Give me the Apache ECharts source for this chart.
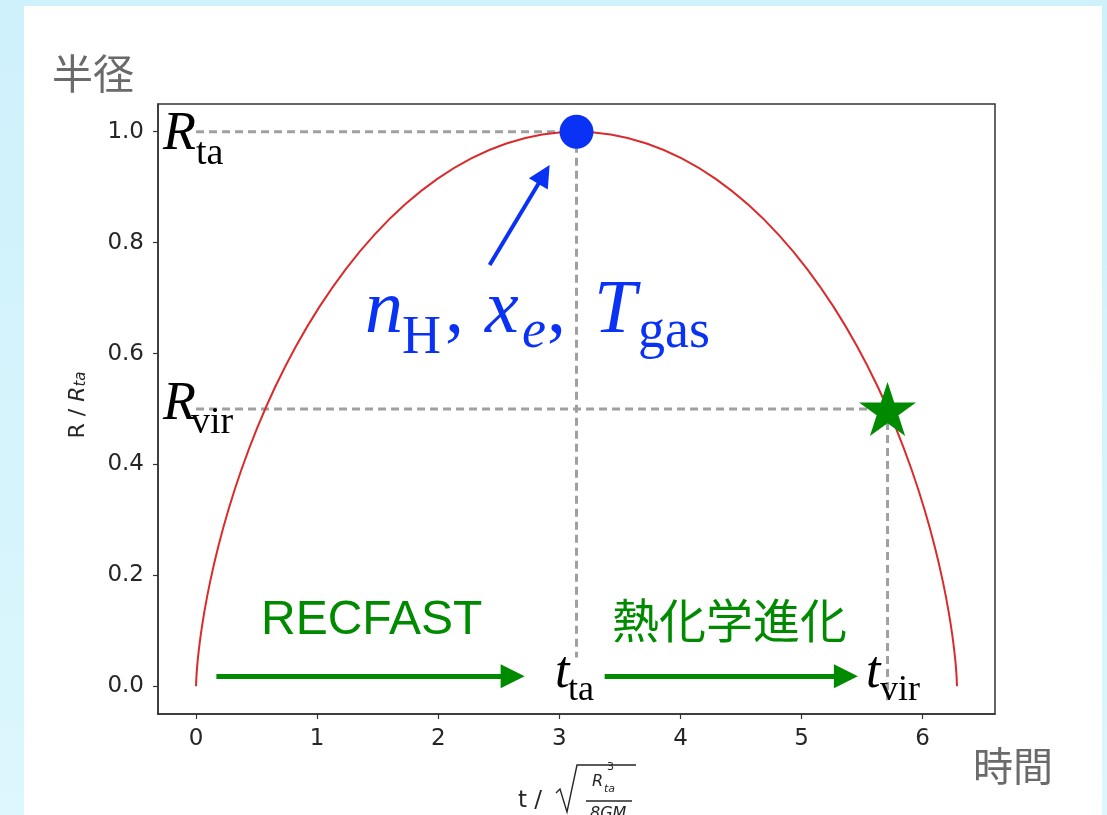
<!DOCTYPE html>
<html>
<head>
<meta charset="utf-8">
<script src="https://cdn.jsdelivr.net/npm/echarts@6.0.0/dist/echarts.min.js"></script>
<style>
  html, body { margin:0; padding:0; width:1107px; height:815px; overflow:hidden;
    background: linear-gradient(180deg, #cff1fb 0%, #d6f4fc 60%, #dcf7fd 100%); }
  #card { position:absolute; left:24px; top:6px; width:1078px; height:820px; background:#fff; }
  #chart { position:absolute; left:0; top:0; width:1107px; height:815px; }
</style>
</head>
<body>
<div id="card"></div>
<div id="chart"></div>
<script>
// ---- data ----
const tValues = [0, 0.0006, 0.0045, 0.0150, 0.0354, 0.0684, 0.1167, 0.1826, 0.268, 0.3743, 0.5025,
  0.6531, 0.8262, 1.021, 1.2368, 1.4719, 1.7245, 1.9923, 2.2726, 2.5625, 2.8589, 3.1416,
  3.4243, 3.7207, 4.0106, 4.2909, 4.5587, 4.8113, 5.0464, 5.2622, 5.457, 5.6301, 5.7807,
  5.9089, 6.0152, 6.1006, 6.1665, 6.2148, 6.2478, 6.2682, 6.2787, 6.2826, 6.2832];
const rValues = [0, 0.0056, 0.0223, 0.0498, 0.0873, 0.1342, 0.1892, 0.2512, 0.3188, 0.3905, 0.4646,
  0.5396, 0.6136, 0.6851, 0.7524, 0.8141, 0.8687, 0.9151, 0.9521, 0.9789, 0.995, 1.0,
  0.995, 0.9789, 0.9521, 0.9151, 0.8687, 0.8141, 0.7524, 0.6851, 0.6136, 0.5396, 0.4646,
  0.3905, 0.3188, 0.2512, 0.1892, 0.1342, 0.0873, 0.0498, 0.0223, 0.0056, 0];
const xTicks = [0, 1, 2, 3, 4, 5, 6];
const yTicks = [0.0, 0.2, 0.4, 0.6, 0.8, 1.0];
const xRange = [-0.3142, 6.5973];
const yRange = [-0.05, 1.05];
const turnaround = [3.1416, 1.0];      // (t_ta, R_ta)
const virial = [5.71, 0.5];            // (t_vir, R_vir)
const guideStart = 0;                  // horizontal guides start at t = 0
const taLineBottom = 0.052;
const virLineBottom = -0.025;
const arrowRecfast = [[0.168, 0.018], [2.614, 0.018]];
const arrowThermo = [[3.374, 0.018], [5.366, 0.018]];
const arrowBlue = [[2.424, 0.7595], [2.873, 0.923]];

// ---- styles ----
const BLUE = '#0a32f5', GREEN = '#008a00', RED = '#d92b2b', GRAY = '#a0a0a0', AX = '#333333';
const SERIF = '"Liberation Serif", "Times New Roman", serif';
const CJK = '"Noto Sans CJK JP", sans-serif';
const DV = '"DejaVu Sans", sans-serif';
const STAR = 'path://M50,0 L61.2,34.5 L97.6,34.5 L68.2,55.9 L79.4,90.5 L50,69.1 L20.6,90.5 L31.8,55.9 L2.4,34.5 L38.8,34.5 Z';

function dashed(data) {
  return { type:'line', data, showSymbol:false, silent:true, z:3,
    lineStyle:{ color:GRAY, width:3, type:[8,5] } };
}
function txt(text, x, baseline, fs, font, fill, weight) {
  return { type:'text', x, y: baseline - 0.32*fs, z:20, silent:true,
    style:{ text, font: (weight||'') + ' ' + fs + 'px ' + font, fill: fill||'#000', align:'left', verticalAlign:'middle' } };
}
function mid(text, x, ymid, fs, font, fill) {
  return { type:'text', x, y: ymid, z:20, silent:true,
    style:{ text, font: fs + 'px ' + font, fill, align:'left', verticalAlign:'middle' } };
}

const chart = echarts.init(document.getElementById('chart'), null, { renderer:'canvas' });
const curve = tValues.map((t, i) => [t, rValues[i]]);

const graphics = [
  mid('半径', 52, 73, 41, CJK, '#6a6a6a'),
  mid('時間', 973, 766, 40, CJK, '#6a6a6a'),
  // R_ta
  txt('R', 163, 152, 54, SERIF, '#000', 'italic'),
  txt('ta', 196, 166, 38, SERIF, '#000'),
  // R_vir
  txt('R', 163, 422, 54, SERIF, '#000', 'italic'),
  txt('vir', 191, 435, 38, SERIF, '#000'),
  // t_ta, t_vir
  txt('t', 555, 690, 52, SERIF, '#000', 'italic'),
  txt('ta', 568, 702, 36, SERIF, '#000'),
  txt('t', 866, 690, 52, SERIF, '#000', 'italic'),
  txt('vir', 880, 702, 36, SERIF, '#000'),
  // n_H, x_e, T_gas
  txt('n', 365, 336, 76, SERIF, BLUE, 'italic'),
  txt('H', 402, 356, 54, SERIF, BLUE),
  txt(',', 445, 336, 76, SERIF, BLUE),
  txt('x', 485, 336, 76, SERIF, BLUE, 'italic'),
  txt('e', 522, 350, 54, SERIF, BLUE, 'italic'),
  txt(',', 547, 336, 76, SERIF, BLUE),
  txt('T', 594, 336, 76, SERIF, BLUE, 'italic'),
  txt('gas', 638, 350, 54, SERIF, BLUE),
  // green labels
  mid('RECFAST', 261, 621, 48, '"Liberation Sans", Arial, sans-serif', GREEN),
  mid('熱化学進化', 612, 620, 47, CJK, GREEN),
  // y-axis name
  { type:'text', x:78, y:405, rotation:Math.PI/2, z:20, silent:true,
    style:{ text:'{a|R / }{b|R}{c|ta}', align:'center', verticalAlign:'middle',
      rich:{ a:{ font:'22px ' + DV, fill:'#262626' },
             b:{ font:'italic 22px ' + DV, fill:'#262626' },
             c:{ font:'italic 15px ' + DV, fill:'#262626', verticalAlign:'bottom', padding:[6,0,0,0] } } } },
  // x-axis name: t / sqrt(R_ta^3 / 8GM)
  txt('t /', 518, 808, 23, DV, '#262626'),
  { type:'polyline', z:20, silent:true, shape:{ points:[[556,793],[560,789],[567,812],[577,765],[636,765]] },
    style:{ stroke:'#262626', lineWidth:1.4, fill:null } },
  txt('R', 592, 787, 16, DV, '#262626', 'italic'),
  txt('ta', 604, 793, 11, DV, '#262626', 'italic'),
  txt('3', 607, 771, 11, DV, '#262626'),
  { type:'line', z:20, silent:true, shape:{ x1:586, y1:801, x2:632, y2:801 }, style:{ stroke:'#262626', lineWidth:1.4 } },
  txt('8GM', 590, 819, 16, DV, '#262626', 'italic')
];

chart.setOption({
  animation:false,
  backgroundColor:'transparent',
  grid:{ left:158, top:104, width:837, height:610, show:true, backgroundColor:'#fff',
    borderColor:AX, borderWidth:1.5, containLabel:false },
  xAxis:{ type:'value', min:xRange[0], max:xRange[1],
    axisLine:{ show:true, onZero:false, lineStyle:{ color:AX, width:1.5 } },
    axisTick:{ show:true, length:5, lineStyle:{ color:AX, width:1.2 }, customValues:xTicks },
    axisLabel:{ customValues:xTicks, formatter:v => String(v), color:'#262626', fontSize:23, fontFamily:'DejaVu Sans', margin:14 },
    splitLine:{ show:false } },
  yAxis:{ type:'value', min:yRange[0], max:yRange[1],
    axisLine:{ show:true, onZero:false, lineStyle:{ color:AX, width:1.5 } },
    axisTick:{ show:true, length:5, lineStyle:{ color:AX, width:1.2 }, customValues:yTicks },
    axisLabel:{ customValues:yTicks, formatter:v => v.toFixed(1), color:'#262626', fontSize:23, fontFamily:'DejaVu Sans', margin:14 },
    splitLine:{ show:false } },
  series:[
    dashed([[guideStart, turnaround[1]], turnaround]),
    dashed([turnaround, [turnaround[0], taLineBottom]]),
    dashed([[guideStart, virial[1]], virial]),
    dashed([virial, [virial[0], virLineBottom]]),
    { type:'line', data:curve, showSymbol:false, smooth:0.25, silent:true, z:4,
      lineStyle:{ color:RED, width:2 } },
    { type:'lines', coordinateSystem:'cartesian2d', silent:true, z:6,
      symbol:['none','triangle'], symbolSize:[20,24],
      lineStyle:{ color:GREEN, width:5, opacity:1 },
      data:[ { coords:arrowRecfast }, { coords:arrowThermo } ] },
    { type:'lines', coordinateSystem:'cartesian2d', silent:true, z:6,
      symbol:['none','triangle'], symbolSize:[18,22],
      lineStyle:{ color:BLUE, width:4, opacity:1 },
      data:[ { coords:arrowBlue } ] },
    { type:'scatter', data:[turnaround], symbol:'circle', symbolSize:34, silent:true, z:7,
      itemStyle:{ color:BLUE, opacity:1 } },
    { type:'scatter', data:[virial], symbol:STAR, symbolSize:[57,54], silent:true, z:7,
      itemStyle:{ color:GREEN, opacity:1 } }
  ],
  graphic: graphics
});
</script>
</body>
</html>
